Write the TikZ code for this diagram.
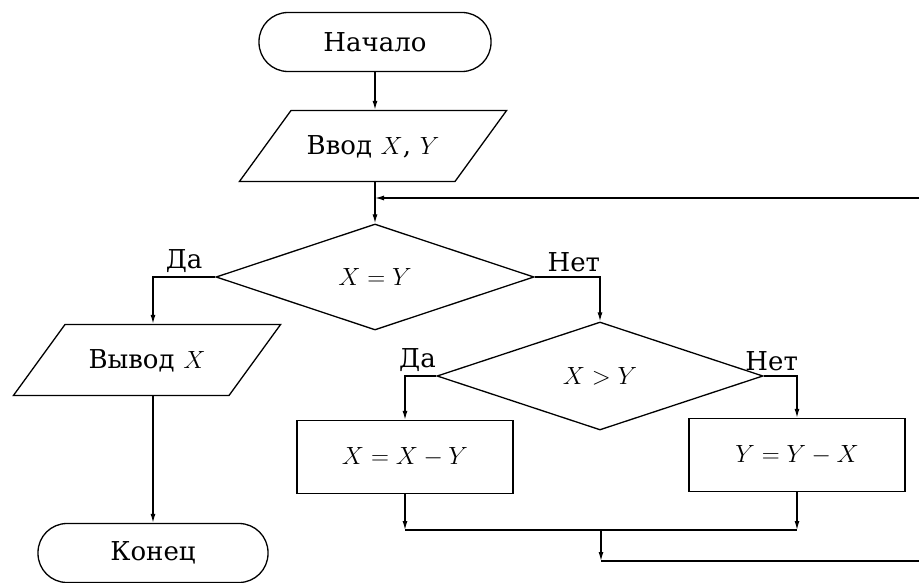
\documentclass[tikz,border=0pt]{standalone}
\usepackage{fontspec}
\setmainfont{DejaVu Serif}
\usetikzlibrary{arrows.meta,shapes.geometric}

\begin{document}
\begin{tikzpicture}[x=1pt,y=-1pt,font=\fontsize{26}{30}\selectfont,
  line width=1.3pt,>={Latex[length=9pt,width=5pt]},
  terminal/.style={draw,rounded corners=29pt,minimum width=232pt,minimum height=59pt,inner sep=0pt},
  io/.style={draw,trapezium,trapezium left angle=54,trapezium right angle=126,
    inner sep=0pt,text width=164pt,align=center,text height=44pt,text depth=27pt},
  decision/.style={draw,diamond,inner sep=0pt},
  block/.style={draw,minimum width=216pt,minimum height=73pt,inner sep=0pt},
  lbl/.style={inner sep=4pt}]
  \useasboundingbox (0,0) rectangle (919,583);
  \clip (0,0) rectangle (919,583);
  % bloky
  \node[terminal] (start) at (375,42) {Начало};
  \node[io] (in) at (373,146) {Ввод $X$, $Y$};
  \node[decision,minimum width=318pt,minimum height=106pt] (c1) at (375,277) {$X = Y$};
  \node[io] (out) at (147,360) {Вывод $X$};
  \node[terminal,minimum width=230pt] (stop) at (153,553) {Конец};
  \node[decision,minimum width=326pt,minimum height=108pt] (c2) at (600,376) {$X > Y$};
  \node[block] (sub1) at (405,457) {$X = X - Y$};
  \node[block] (sub2) at (797,455) {$Y = Y - X$};
  \coordinate (join) at (375,198);
  \coordinate (m) at (601,530);
  \coordinate (back) at (601,561);
  \coordinate (edge) at (925,0);
  % spoje
  \draw[->] (start) -- (start |- in.north);
  \draw[->] (in.south -| c1) -- (c1);
  \draw[->] (c1.west) -| node[lbl,above,pos=0.25] {Да} (stop.north |- out.north);
  \draw[->] (c1.east) -| node[lbl,above,pos=0.3] {Нет} (c2.north);
  \draw[->] (stop.north |- out.south) -- (stop);
  \draw[->] (c2.west) -| node[lbl,above,pos=0.3] {Да} (sub1.north);
  \draw[->] (c2.east) -| node[lbl,above,pos=0.12] {Нет} (sub2.north);
  \draw[->] (sub1.south) -- (sub1.south |- m);
  \draw[->] (sub2.south) -- (sub2.south |- m);
  \draw (sub1.south |- m) -- (sub2.south |- m);
  \draw[->] (m) -- (back);
  \draw[->] (back) -- (back -| edge) |- (join);
\end{tikzpicture}
\end{document}
